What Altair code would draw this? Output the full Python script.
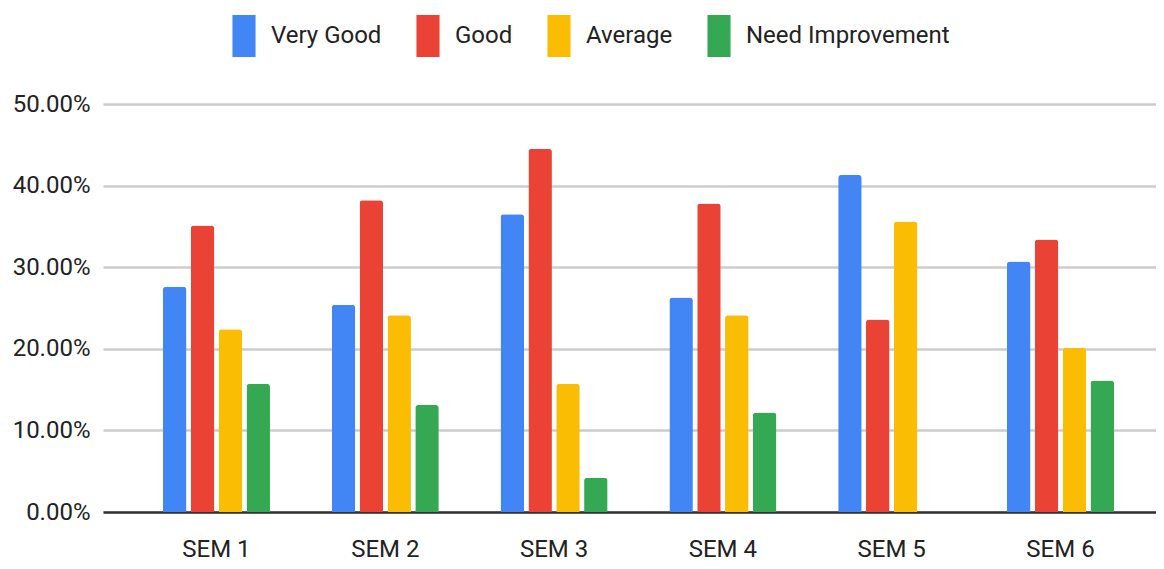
import altair as alt
import pandas as pd

semesters = ["SEM 1", "SEM 2", "SEM 3", "SEM 4", "SEM 5", "SEM 6"]
series = ["Very Good", "Good", "Average", "Need Improvement"]
very_good = [0.276, 0.254, 0.365, 0.263, 0.413, 0.307]
good = [0.351, 0.382, 0.445, 0.378, 0.236, 0.334]
average = [0.224, 0.241, 0.157, 0.241, 0.356, 0.201]
need_improvement = [0.157, 0.131, 0.042, 0.122, 0.0, 0.161]
colors = ["#4285F4", "#EA4335", "#FBBC04", "#34A853"]
y_ticks = [0, 0.1, 0.2, 0.3, 0.4, 0.5]

rows = []
for name, vals in zip(series, [very_good, good, average, need_improvement]):
    for s, v in zip(semesters, vals):
        rows.append({"semester": s, "series": name, "value": v})
df = pd.DataFrame(rows)

FONT = "Roboto"

chart = alt.Chart(df).mark_bar(
    cornerRadiusTopLeft=3, cornerRadiusTopRight=3
).encode(
    x=alt.X(
        "semester:N", sort=semesters, title=None,
        scale=alt.Scale(paddingInner=0.366, paddingOuter=0.302, align=0.588),
        axis=alt.Axis(labelAngle=0, labelFont=FONT, labelFontSize=24, labelColor="#222222",
                      labelPadding=25, ticks=False, domainColor="#333333", domainWidth=2.5,
                      grid=False),
    ),
    xOffset=alt.XOffset("series:N", sort=series,
                        scale=alt.Scale(paddingInner=0.156, paddingOuter=0)),
    y=alt.Y(
        "value:Q", title=None,
        scale=alt.Scale(domain=[0, 0.5], nice=False),
        axis=alt.Axis(format=".2%", values=y_ticks, labelFont=FONT, labelFontSize=24,
                      labelColor="#222222", labelPadding=13, ticks=False, domain=False,
                      gridColor="#cccccc", gridWidth=2.5),
    ),
    color=alt.Color(
        "series:N", sort=series,
        scale=alt.Scale(domain=series, range=colors),
        legend=alt.Legend(title=None, orient="none", legendX=120, legendY=-89,
                          direction="horizontal", padding=0, gridAlign="none",
                          symbolType="M-0.55,-1H0.55V1H-0.55Z", symbolSize=1764,
                          symbolStrokeWidth=0, labelFont=FONT, labelFontSize=24,
                          labelColor="#222222", labelOffset=6, columnPadding=25,
                          labelLimit=400),
    ),
).properties(
    width=1053, height=408,
    autosize=alt.AutoSizeParams(type="none"),
    padding={"left": 95, "top": 96, "right": 0, "bottom": 55},
).configure_view(stroke=None)

chart.save("out.html", embed_options={"renderer": "svg", "actions": False})
